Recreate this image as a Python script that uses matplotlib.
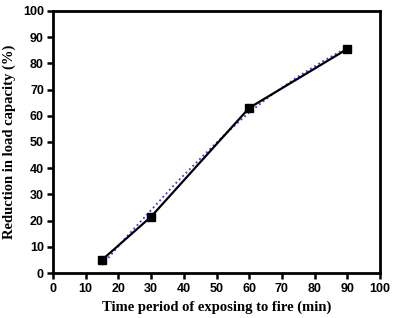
import matplotlib
matplotlib.use("Agg")
from matplotlib import pyplot as plt

time_min = [15, 30, 60, 90]
reduction = [5, 21.5, 63, 85.5]

# dotted trend line
trend_x = [15, 22.5, 30, 37.5, 45, 52.5, 60, 67.5, 75, 82.5, 90]
trend_y = [3, 13.8, 24, 34.2, 43.6, 52.8, 61.3, 68.6, 75, 80.8, 86]

x_ticks = [0, 10, 20, 30, 40, 50, 60, 70, 80, 90, 100]
y_ticks = [0, 10, 20, 30, 40, 50, 60, 70, 80, 90, 100]

fig = plt.figure(figsize=(3.94, 3.18), dpi=100)
ax = fig.add_axes([0.1345, 0.1415, 0.83, 0.824])

ax.plot(trend_x, trend_y, linestyle=':', color='#3333ff', linewidth=1.3, zorder=2)
ax.plot(time_min, reduction, color='black', linewidth=1.6, marker='s',
        markersize=5.5, zorder=3)

ax.set_xlim(0, 100)
ax.set_ylim(0, 100)
ax.set_xticks(x_ticks)
ax.set_yticks(y_ticks)

for s in ax.spines.values():
    s.set_linewidth(2)
ax.tick_params(direction='out', width=1.8, length=4.5)
ax.tick_params(axis='x', pad=3)
ax.tick_params(axis='y', pad=2)
for lab in ax.get_xticklabels() + ax.get_yticklabels():
    lab.set_fontfamily('Liberation Sans')
    lab.set_fontweight('bold')
    lab.set_fontsize(9)

ax.set_xlabel('Time period of exposing to fire (min)', fontfamily='Liberation Serif',
              fontweight='bold', fontsize=10.5, labelpad=4)
ax.set_ylabel('Reduction in load capacity (%)', fontfamily='Liberation Serif',
              fontweight='bold', fontsize=10.5, labelpad=5)

fig.savefig('out.png', dpi=100)
